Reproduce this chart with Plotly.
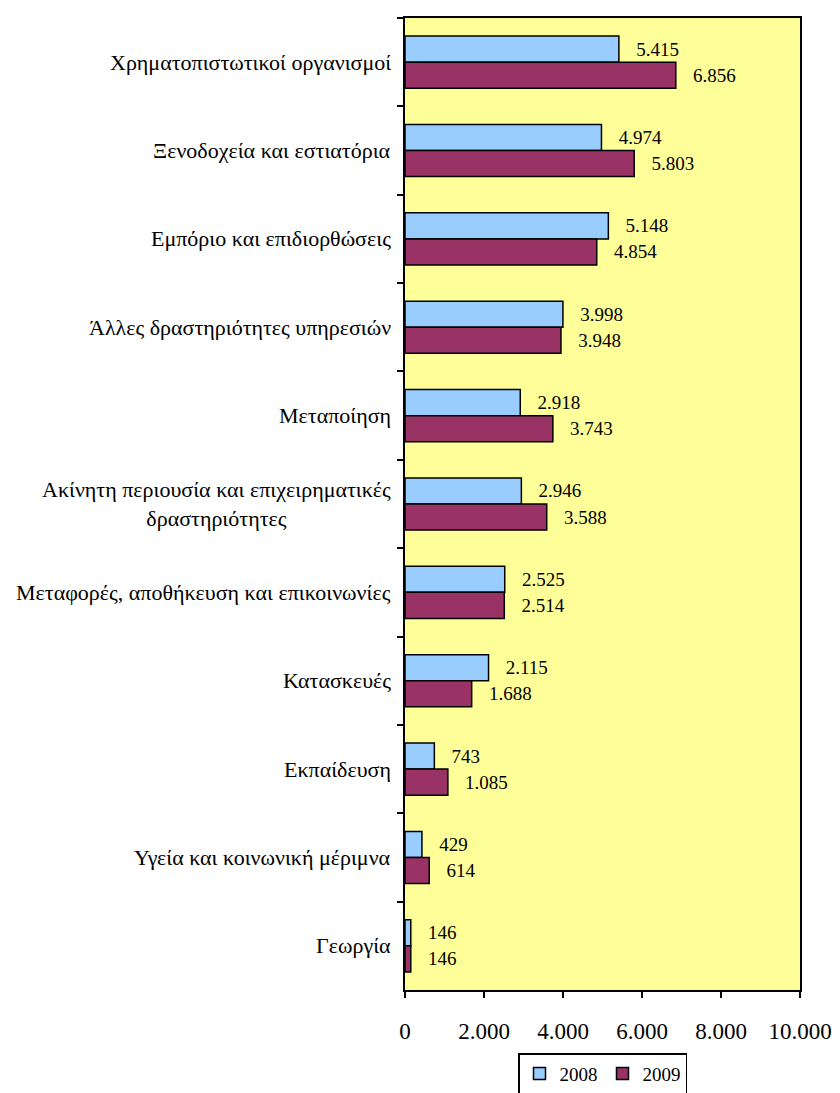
import plotly.graph_objects as go

# sectors, top to bottom
sectors = [
    "Χρηματοπιστωτικοί οργανισμοί",
    "Ξενοδοχεία και εστιατόρια",
    "Εμπόριο και επιδιορθώσεις",
    "Άλλες δραστηριότητες υπηρεσιών",
    "Μεταποίηση",
    "Ακίνητη περιουσία και επιχειρηματικές<br>δραστηριότητες",
    "Μεταφορές, αποθήκευση και επικοινωνίες",
    "Κατασκευές",
    "Εκπαίδευση",
    "Υγεία και κοινωνική μέριμνα",
    "Γεωργία",
]
val_2008 = [5415, 4974, 5148, 3998, 2918, 2946, 2525, 2115, 743, 429, 146]
val_2009 = [6856, 5803, 4854, 3948, 3743, 3588, 2514, 1688, 1085, 614, 146]

FONT = "Liberation Serif, Times New Roman, serif"
pad = "\u00a0" * 3

fig = go.Figure()
fig.add_trace(go.Bar(
    y=sectors, x=val_2008, name="2008", orientation="h",
    marker=dict(color="#99CCFF", line=dict(color="black", width=1.5)),
    texttemplate=pad + "%{x:,.0f}", textposition="outside",
    textfont=dict(family=FONT, size=19, color="black"), cliponaxis=False,
))
fig.add_trace(go.Bar(
    y=sectors, x=val_2009, name="2009", orientation="h",
    marker=dict(color="#993366", line=dict(color="black", width=1.5)),
    texttemplate=pad + "%{x:,.0f}", textposition="outside",
    textfont=dict(family=FONT, size=19, color="black"), cliponaxis=False,
))

# category labels as annotations so the two-line one is centred
for s in sectors:
    fig.add_annotation(x=0, xref="paper", y=s, yref="y", text=s,
                       xanchor="right", align="center", showarrow=False,
                       xshift=-12, font=dict(family=FONT, size=22, color="black"))

# figure is a bit taller than the window so the legend box runs off the bottom
fig.update_layout(
    width=832, height=1105,
    margin=dict(l=397, r=38, t=8, b=123),
    paper_bgcolor="white", plot_bgcolor="#FFFF99",
    barmode="group", bargap=0.41, bargroupgap=0,
    separators=",.",
    font=dict(family=FONT, size=19, color="black"),
    showlegend=True,
    legend=dict(orientation="h", x=0.5, xanchor="center", y=-0.065, yanchor="top",
                bordercolor="black", borderwidth=1.5, bgcolor="white",
                font=dict(family=FONT, size=19)),
    xaxis=dict(range=[0, 10000], dtick=2000, tickformat=",", showgrid=False,
               zeroline=False, showline=True, linecolor="black", linewidth=2,
               mirror=True, ticks="outside", ticklen=6, tickwidth=2, tickcolor="black",
               ticklabelstandoff=13, tickfont=dict(family=FONT, size=23)),
    yaxis=dict(autorange="reversed", showticklabels=False, showgrid=False,
               showline=True, linecolor="black", linewidth=2, mirror=True,
               ticks="outside", ticklen=6, tickwidth=2, tickcolor="black",
               tickson="boundaries"),
)

fig.write_html("out.html")
